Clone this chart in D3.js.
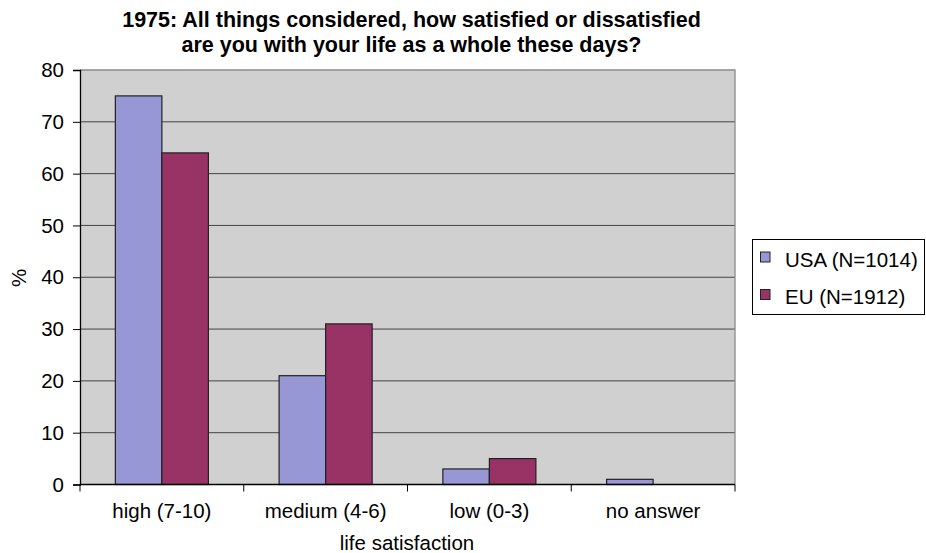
<!DOCTYPE html>
<html>
<head>
<meta charset="utf-8">
<script src="https://cdn.jsdelivr.net/npm/d3@7"></script>
<style>
  body { margin: 0; background: #fff; }
  text { font-family: "Liberation Sans", Arial, sans-serif; fill: #000; }
</style>
</head>
<body>
<svg id="chart" width="926" height="553"></svg>
<script>
// Life satisfaction, 1975 survey (% of respondents)
const categories = ["high (7-10)", "medium (4-6)", "low (0-3)", "no answer"];
const seriesNames = ["USA (N=1014)", "EU (N=1912)"];
const usaValues = [75, 21, 3, 1];
const euValues = [64, 31, 5, 0];
const yTicks = [0, 10, 20, 30, 40, 50, 60, 70, 80];
const colors = ["#9797d6", "#993366"];

const FS = "20.5px";
const svg = d3.select("#chart");
const plot = { left: 80, right: 735, top: 70, bottom: 484.5 };

const x = d3.scaleBand().domain(categories).range([plot.left, plot.right]).paddingInner(0).paddingOuter(0);
const x1 = d3.scaleBand().domain(seriesNames).range([0, x.bandwidth()]).paddingInner(0).paddingOuter(0.76);
const y = d3.scaleLinear().domain([0, 80]).range([plot.bottom, plot.top]);

// plot background
svg.append("rect")
  .attr("x", plot.left).attr("y", plot.top)
  .attr("width", plot.right - plot.left).attr("height", plot.bottom - plot.top)
  .attr("fill", "#d0d0d0");

// gridlines
svg.append("g").selectAll("line").data(yTicks.filter(d => d > 0 && d < 80)).join("line")
  .attr("x1", plot.left).attr("x2", plot.right)
  .attr("y1", d => y(d)).attr("y2", d => y(d))
  .attr("stroke", "#444").attr("stroke-width", 1);

// top and right plot border
svg.append("path")
  .attr("d", `M${plot.left},${y(80)}H${plot.right}V${plot.bottom}`)
  .attr("fill", "none").attr("stroke", "#8a8a8a").attr("stroke-width", 1.3);

// bars
const rows = categories.map((c, i) => ({ cat: c, vals: [usaValues[i], euValues[i]] }));
const groups = svg.append("g").selectAll("g").data(rows).join("g")
  .attr("transform", d => `translate(${x(d.cat)},0)`);
groups.selectAll("rect").data(d => d.vals.map((v, j) => ({ name: seriesNames[j], v, j })).filter(d => d.v > 0))
  .join("rect")
  .attr("x", d => x1(d.name)).attr("width", x1.bandwidth())
  .attr("y", d => y(d.v)).attr("height", d => y(0) - y(d.v))
  .attr("fill", d => colors[d.j])
  .attr("stroke", "#222").attr("stroke-width", 1.2);

// y axis
const yAxis = svg.append("g")
  .attr("transform", `translate(${plot.left},0)`)
  .call(d3.axisLeft(y).tickValues(yTicks).tickSize(7).tickPadding(9));
yAxis.select(".domain").attr("stroke", "#000").attr("stroke-width", 1.3);
yAxis.selectAll(".tick line").attr("stroke", "#000");
yAxis.selectAll("text").style("font-size", FS).attr("fill", "#000");

// x axis: ticks at category boundaries
const xAxis = svg.append("g").attr("transform", `translate(0,${plot.bottom})`);
xAxis.append("line").attr("x1", plot.left).attr("x2", plot.right)
  .attr("stroke", "#000").attr("stroke-width", 1.3);
const bounds = categories.map(c => x(c)).concat([x(categories[categories.length - 1]) + x.bandwidth()]);
xAxis.selectAll("line.tk").data(bounds).join("line").attr("class", "tk")
  .attr("x1", d => d).attr("x2", d => d).attr("y1", 0).attr("y2", 7)
  .attr("stroke", "#000");
xAxis.selectAll("text").data(categories).join("text")
  .attr("x", d => x(d) + x.bandwidth() / 2).attr("y", 33)
  .attr("text-anchor", "middle").style("font-size", FS).text(d => d);

// titles
const title = svg.append("text").attr("text-anchor", "middle").style("font-size", "21.5px").style("font-weight", "bold");
title.append("tspan").attr("x", 411.5).attr("y", 27).text("1975: All things considered, how satisfied or dissatisfied");
title.append("tspan").attr("x", 411.5).attr("y", 52).text("are you with your life as a whole these days?");

svg.append("text").attr("x", 407).attr("y", 550).attr("text-anchor", "middle")
  .style("font-size", FS).text("life satisfaction");

svg.append("text").attr("transform", "translate(19,278) rotate(-90)").attr("text-anchor", "middle")
  .attr("dy", "0.35em").style("font-size", FS).text("%");

// legend
const lg = svg.append("g");
lg.append("rect").attr("x", 752.5).attr("y", 239.5).attr("width", 172).attr("height", 75)
  .attr("fill", "#fff").attr("stroke", "#000").attr("stroke-width", 1);
seriesNames.forEach((n, i) => {
  lg.append("rect").attr("x", 760.5).attr("y", 252 + i * 37.5).attr("width", 9.5).attr("height", 10)
    .attr("fill", colors[i]).attr("stroke", "#222");
  lg.append("text").attr("x", 785).attr("y", 266.5 + i * 37.5).style("font-size", FS).text(n);
});
</script>
</body>
</html>
